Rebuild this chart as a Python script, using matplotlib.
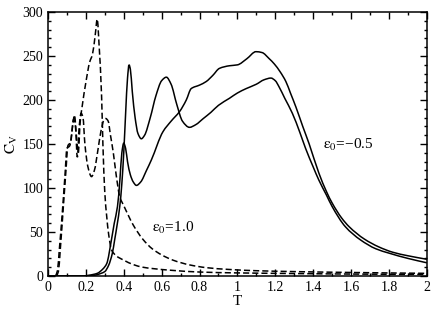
import matplotlib
matplotlib.use("Agg")
import matplotlib.pyplot as plt
from matplotlib.ticker import MultipleLocator
from matplotlib.path import Path
from matplotlib.patches import PathPatch

plt.rcParams['font.family'] = ['Liberation Serif', 'DejaVu Serif']
plt.rcParams['mathtext.fontset'] = 'stix'

# eps0 = -0.5, curve with high first peak
T_a = [0.0, 0.2, 0.25, 0.28, 0.30, 0.32, 0.34, 0.352, 0.365, 0.379, 0.39, 0.40, 0.41, 0.42,
       0.428, 0.435, 0.445, 0.46, 0.475, 0.493, 0.51, 0.54, 0.57, 0.60, 0.625, 0.65, 0.68,
       0.71, 0.747, 0.78, 0.82, 0.86, 0.90, 0.958, 1.0, 1.046, 1.10, 1.14, 1.177, 1.20,
       1.22, 1.25, 1.29, 1.33, 1.36, 1.40, 1.43, 1.47, 1.50, 1.57, 1.65, 1.73, 1.80, 1.90, 2.0]
C_a = [0, 0, 1, 3, 5, 12, 26, 41, 58, 79, 105, 140, 185, 225,
       240, 235, 210, 180, 162, 156, 160, 180, 205, 222, 226, 218, 195,
       176, 169, 172, 179, 186, 194, 202, 208, 213, 218, 223, 225, 222,
       215, 202, 185, 163, 145, 124, 109, 92, 79, 56, 41, 31, 26, 20, 15]

# eps0 = -0.5, curve with low first peak
T_b = [0.0, 0.18, 0.22, 0.26, 0.29, 0.31, 0.335, 0.35, 0.367, 0.38, 0.39, 0.40, 0.41, 0.42,
       0.435, 0.45, 0.467, 0.49, 0.52, 0.546, 0.607, 0.65, 0.695, 0.73, 0.756, 0.80, 0.835,
       0.87, 0.905, 0.958, 1.0, 1.05, 1.098, 1.13, 1.168, 1.195, 1.226, 1.256, 1.28, 1.309,
       1.345, 1.379, 1.43, 1.47, 1.50, 1.55, 1.59, 1.67, 1.747, 1.82, 1.90, 2.0]
C_b = [0, 0, 1, 3, 8, 14, 41, 60, 79, 110, 140, 151, 145, 130,
       115, 107, 103, 107, 120, 132, 164, 176, 187, 200, 213, 217, 221,
       228, 236, 239, 240, 247, 255, 254, 247, 241, 232, 221, 208, 192,
       170, 150, 117, 96, 83, 66, 56, 42, 33, 27, 23, 19]

# eps0 = 1.0, curve with peak ~290
T_c = [0.04, 0.05, 0.06, 0.075, 0.09, 0.10, 0.115, 0.13, 0.14, 0.15, 0.16, 0.17, 0.18, 0.20,
       0.22, 0.235, 0.25, 0.26, 0.27, 0.283, 0.29, 0.30, 0.31, 0.32, 0.335, 0.36, 0.40, 0.45,
       0.50, 0.55, 0.65, 0.8, 1.0, 1.3, 1.6, 2.0]
C_c = [0, 6, 30, 70, 115, 145, 148, 170, 183, 160, 140, 175, 192, 220,
       243, 252, 275, 292, 262, 205, 150, 95, 68, 48, 30, 23, 18, 13,
       10, 8.5, 6.5, 4.5, 3.5, 2.8, 2.2, 1.8]

# eps0 = 1.0, curve with dip ~113
T_d = [0.045, 0.055, 0.065, 0.08, 0.095, 0.105, 0.12, 0.135, 0.145, 0.155, 0.165, 0.175,
       0.185, 0.195, 0.21, 0.23, 0.245, 0.265, 0.28, 0.295, 0.305, 0.318, 0.33, 0.345, 0.36,
       0.379, 0.40, 0.45, 0.50, 0.55, 0.60, 0.66, 0.75, 0.835, 0.95, 1.1, 1.3, 1.6, 2.0]
C_d = [0, 5, 30, 75, 120, 148, 152, 178, 170, 135, 170, 185,
       180, 150, 125, 113, 120, 145, 165, 177, 179, 176, 160, 140, 115,
       90, 80, 58, 42, 31, 24, 18, 12.5, 9.5, 7.5, 6, 5, 4, 3]

x_ticks = [0, 0.2, 0.4, 0.6, 0.8, 1, 1.2, 1.4, 1.6, 1.8, 2]
x_tick_labels = ['0', '0.2', '0.4', '0.6', '0.8', '1', '1.2', '1.4', '1.6', '1.8', '2']
y_ticks = [0, 50, 100, 150, 200, 250, 300]


def smooth_path(xs, ys):
    """Monotone cubic (Fritsch-Carlson) curve through the points, as Bezier segments."""
    n = len(xs)
    h = [xs[i + 1] - xs[i] for i in range(n - 1)]
    d = [(ys[i + 1] - ys[i]) / h[i] for i in range(n - 1)]
    m = [0.0] * n
    m[0], m[-1] = d[0], d[-1]
    for i in range(1, n - 1):
        if d[i - 1] * d[i] <= 0:
            m[i] = 0.0
        else:
            w1 = 2 * h[i] + h[i - 1]
            w2 = h[i] + 2 * h[i - 1]
            m[i] = (w1 + w2) / (w1 / d[i - 1] + w2 / d[i])
    verts = [(xs[0], ys[0])]
    codes = [Path.MOVETO]
    for i in range(n - 1):
        verts += [(xs[i] + h[i] / 3, ys[i] + m[i] * h[i] / 3),
                  (xs[i + 1] - h[i] / 3, ys[i + 1] - m[i + 1] * h[i] / 3),
                  (xs[i + 1], ys[i + 1])]
        codes += [Path.CURVE4] * 3
    return Path(verts, codes)


fig = plt.figure(figsize=(4.36, 3.10), dpi=100)
ax = fig.add_axes([0.110, 0.1097, 0.869, 0.8513])

lw = 1.1
for xs, ys, ls in [(T_a, C_a, '-'), (T_b, C_b, '-'),
                   (T_c, C_c, (0, (4, 2))), (T_d, C_d, (0, (4, 2)))]:
    ax.add_patch(PathPatch(smooth_path(xs, ys), facecolor='none', edgecolor='black',
                           lw=lw, linestyle=ls, transform=ax.transData, clip_on=True))

ax.set_xlim(0, 2)
ax.set_ylim(0, 300)
ax.set_xticks(x_ticks)
ax.set_xticklabels(x_tick_labels)
ax.set_yticks(y_ticks)
ax.xaxis.set_minor_locator(MultipleLocator(0.1))
ax.yaxis.set_minor_locator(MultipleLocator(10))
ax.tick_params(which='both', direction='in', top=True, right=True, labelsize=10, width=1.0)
ax.tick_params(which='major', length=5)
ax.tick_params(which='minor', length=2.5)
for s in ax.spines.values():
    s.set_linewidth(1.1)

ax.set_xlabel('T', fontsize=11, labelpad=1)
ax.set_ylabel(r'$\mathrm{C_V}$', fontsize=11, labelpad=2)

ax.text(1.453, 149, r'$\mathrm{\varepsilon_0}$=−0.5', fontsize=11, va='center', ha='left')
ax.text(0.551, 55, r'$\mathrm{\varepsilon_0}$=1.0', fontsize=11, va='center', ha='left')

fig.savefig('out.png', dpi=100)
